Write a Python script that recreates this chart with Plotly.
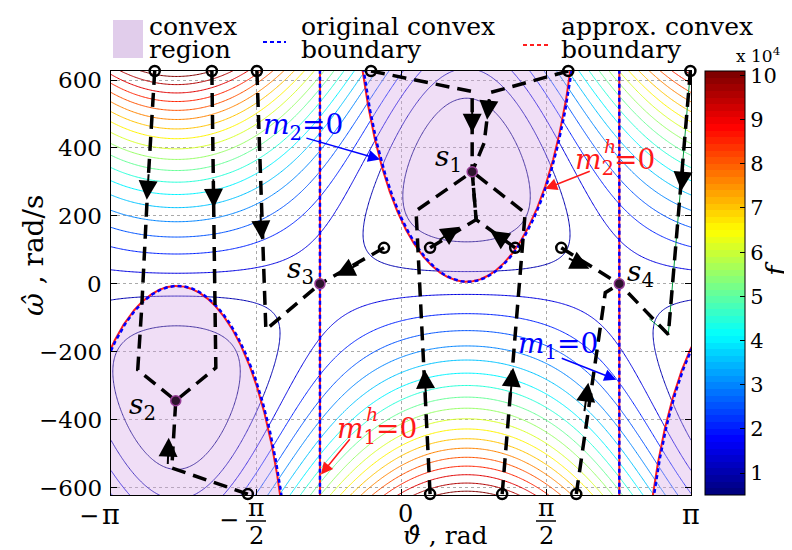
import numpy as np
import plotly.graph_objects as go

# ---------------- data ----------------
# cost surface model f = A*(w - R cos u)^2 + B*(1 - cos 2u),  u = theta - theta_s1
theta_s1 = 0.71
R_valley = 335.0
A_curv = 0.113
K_conv = 329.0                      # 2B/(A R): sets the convex boundary
B_curv = K_conv * A_curv * R_valley / 2.0

level_start = 5050.0
level_step = 5050.0
level_end = 101000.0

cbar_range = [5050.0, 101000.0]
cbar_tickvals = [10000 * k for k in range(1, 11)]
cbar_ticktext = [str(k) for k in range(1, 11)]

x_range = [-np.pi, np.pi]
y_range = [-621.6, 626.5]
x_ticks = [-np.pi, -np.pi / 2, 0.0, np.pi / 2, np.pi]
y_ticks = [-600, -400, -200, 0, 200, 400, 600]
y_ticktext = ["−600", "−400", "−200", "0", "200", "400", "600"]

# vertical boundary lines (m2 = 0 / m1^h = 0 and m1 = 0)
vline_theta = [-0.878, 2.365]

# stationary points s1..s4
stat_names = ["1", "2", "3", "4"]
stat_theta = [0.771, -2.440, -0.878, 2.365]
stat_omega = [330.0, -344.0, 0.0, 0.0]

# trajectories (theta [rad], omega [rad/s]); first point = start circle
t1_th = [-2.668, -2.744, -2.809, -2.852, -2.440]
t1_om = [626.5, 283.0, -71.0, -253.0, -344.0]
t2_th = [-2.049, -2.006, -2.440]
t2_om = [626.5, -247.0, -344.0]
t3_th = [-1.561, -1.464, -0.878]
t3_om = [626.5, -135.0, 0.0]
t4_th = [-1.659, -2.483, -2.440]
t4_om = [-619.0, -542.0, -344.0]
t5_th = [-0.184, -0.878]
t5_om = [106.0, 0.0]
t6_th = [-0.325, 0.771, 0.771]
t6_om = [626.5, 566.0, 330.0]
t7_th = [1.812, 0.966, 0.901, 0.771]
t7_om = [626.5, 563.0, 415.0, 330.0]
b1_th = [0.315, 0.163, 0.771]
b1_om = [-619.0, 215.0, 330.0]
b2_th = [1.096, 1.345, 0.771]
b2_om = [-619.0, 209.0, 330.0]
b3_th = [1.899, 2.213, 2.365]
b3_om = [-619.0, -26.0, 0.0]
c1_th = [0.315, 0.814, 0.771]
c1_om = [106.0, 189.0, 330.0]
c2_th = [1.237, 0.814, 0.771]
c2_om = [106.0, 189.0, 330.0]
d1_th = [3.135, 2.896, 2.365]
d1_om = [626.5, -149.0, 0.0]
d2_th = [1.736, 2.365]
d2_om = [106.0, 0.0]
green_th = [3.135, 2.896, 2.690]
green_om = [626.5, -149.0, -103.0]

# arrowheads on trajectories: tip (theta, omega), tail (theta, omega)
arrow_tip_th = [-2.754, -2.028, -1.507, -2.516, -0.705, 0.771, 0.933, 0.640, 0.966, 0.255, 1.215, 2.029, 3.037, 2.041]
arrow_tip_om = [247.6, 224.0, 129.9, -452.8, 24.0, 444.8, 483.3, 167.9, 156.1, -252.6, -246.8, -291.0, 274.2, 44.6]
arrow_tail_th = [-2.733, -2.033, -1.523, -2.527, -0.444, 0.771, 0.955, 0.402, 1.161, 0.272, 1.183, 1.985, 3.059, 1.802]
arrow_tail_om = [327.0, 312.0, 209.4, -535.0, 59.3, 524.3, 548.0, 126.9, 120.8, -340.9, -335.0, -379.0, 341.9, 77.0]

trajectories = [(t1_th, t1_om), (t2_th, t2_om), (t3_th, t3_om), (t4_th, t4_om),
                (t5_th, t5_om), (t6_th, t6_om), (t7_th, t7_om), (b1_th, b1_om),
                (b2_th, b2_om), (b3_th, b3_om), (c1_th, c1_om), (c2_th, c2_om),
                (d1_th, d1_om), (d2_th, d2_om)]

# ---------------- helpers ----------------
FONT = "DejaVu Serif"
X0, X1, Y0, Y1 = 103.0, 683.0, 63.0, 487.0   # plot area in pixels


def pxx(px):
    return (px - X0) / (X1 - X0)


def pxy(py):
    return (Y1 - py) / (Y1 - Y0)


def tick_px(t):
    return X0 + (t - x_range[0]) / (x_range[1] - x_range[0]) * (X1 - X0)


def tick_py(v):
    return Y1 - (v - y_range[0]) / (y_range[1] - y_range[0]) * (Y1 - Y0)


def jet(x):
    r = np.clip(min(4 * x - 1.5, -4 * x + 4.5), 0, 1)
    g = np.clip(min(4 * x - 0.5, -4 * x + 3.5), 0, 1)
    b = np.clip(min(4 * x + 0.5, -4 * x + 2.5), 0, 1)
    return "rgb(%d,%d,%d)" % (round(r * 255), round(g * 255), round(b * 255))


jet64 = []
for i in range(64):
    c = jet(i / 63.0)
    jet64.append([i / 64.0, c])
    jet64.append([(i + 1) / 64.0, c])

# ---------------- surface ----------------
th = np.linspace(-np.pi, np.pi, 421)
om = np.linspace(-650, 650, 361)
TH, OM = np.meshgrid(th, om)
U = TH - theta_s1
F = A_curv * (OM - R_valley * np.cos(U)) ** 2 + B_curv * (1 - np.cos(2 * U))


def boundary(u):
    return R_valley * np.cos(u) - K_conv * np.cos(2 * u) / np.cos(u)


fig = go.Figure()

fill_col = "rgba(212,160,228,0.35)"
u1 = np.linspace(-np.pi / 2 + 1e-3, np.pi / 2 - 1e-3, 1200)
w1 = np.minimum(boundary(u1), 900)
u2 = np.linspace(np.pi / 2 + 1e-3, 3 * np.pi / 2 - 1e-3, 1200)
w2 = np.maximum(boundary(u2), -900)
for xs, ys in [(theta_s1 + u1, w1), (theta_s1 + u2, w2), (theta_s1 + u2 - 2 * np.pi, w2)]:
    fig.add_trace(go.Scatter(x=xs, y=ys, mode="lines", fill="toself", fillcolor=fill_col,
                             line=dict(width=0), hoverinfo="skip", showlegend=False))

fig.add_trace(go.Contour(x=th, y=om, z=F, autocontour=False,
                         contours=dict(start=level_start, end=level_end, size=level_step,
                                       coloring="lines", showlabels=False),
                         colorscale=jet64, zmin=level_start, zmax=level_end,
                         line=dict(width=1), showscale=False, hoverinfo="skip"))

# convex boundaries: approx (red) under original (blue dashed)
for xs, ys in [(theta_s1 + u1, w1), (theta_s1 + u2, w2), (theta_s1 + u2 - 2 * np.pi, w2)]:
    ys_m = np.where(np.abs(ys) < 800, ys, np.nan)
    fig.add_trace(go.Scatter(x=xs, y=ys_m, mode="lines", line=dict(color="rgb(255,30,30)", width=2),
                             hoverinfo="skip", showlegend=False))
    fig.add_trace(go.Scatter(x=xs + 0.012, y=ys_m, mode="lines",
                             line=dict(color="rgb(0,0,255)", width=2.5, dash="4px,3px"),
                             hoverinfo="skip", showlegend=False))
for vt in vline_theta:
    fig.add_trace(go.Scatter(x=[vt, vt], y=[-700, 700], mode="lines", line=dict(color="rgb(255,30,30)", width=2),
                             hoverinfo="skip", showlegend=False))
    fig.add_trace(go.Scatter(x=[vt, vt], y=[-700, 700], mode="lines",
                             line=dict(color="rgb(0,0,255)", width=2.5, dash="4px,3px"),
                             hoverinfo="skip", showlegend=False))

# green thin path
fig.add_trace(go.Scatter(x=green_th, y=green_om, mode="lines", line=dict(color="rgb(0,150,60)", width=1),
                         hoverinfo="skip", showlegend=False))

# trajectories
for tx, ty in trajectories:
    fig.add_trace(go.Scatter(x=tx, y=ty, mode="lines", line=dict(color="black", width=3.5, dash="14px,8px"),
                             hoverinfo="skip", showlegend=False))
fig.add_trace(go.Scatter(x=[t[0][0] for t in trajectories], y=[t[1][0] for t in trajectories],
                         mode="markers", cliponaxis=False,
                         marker=dict(symbol="circle-open", size=10, color="black", line=dict(width=2.5)),
                         hoverinfo="skip", showlegend=False))
fig.add_trace(go.Scatter(x=stat_theta, y=stat_omega, mode="markers",
                         marker=dict(symbol="circle", size=10, color="rgb(45,20,45)",
                                     line=dict(color="rgb(150,60,150)", width=1.5)),
                         hoverinfo="skip", showlegend=False))

# colorbar carrier
fig.add_trace(go.Scatter(x=[0], y=[5000], mode="markers", hoverinfo="skip", showlegend=False,
                         marker=dict(size=1, color=[cbar_range[0]], colorscale=jet64,
                                     cmin=cbar_range[0], cmax=cbar_range[1], showscale=True,
                                     colorbar=dict(x=1 + (697 - X1) / (X1 - X0), xanchor="left",
                                                   y=0.5, yanchor="middle", len=1, lenmode="fraction",
                                                   thickness=40, thicknessmode="pixels",
                                                   outlinewidth=1, outlinecolor="black",
                                                   tickvals=cbar_tickvals, ticktext=cbar_ticktext,
                                                   ticks="inside", ticklen=5, tickcolor="black",
                                                   tickfont=dict(family=FONT, size=21, color="black"),
                                                   xpad=0, ypad=0))))

ann = []
shapes = []

# arrows on trajectories
for i in range(len(arrow_tip_th)):
    ann.append(dict(x=arrow_tip_th[i], y=arrow_tip_om[i], ax=arrow_tail_th[i], ay=arrow_tail_om[i],
                    xref="x", yref="y", axref="x", ayref="y", text="", showarrow=True,
                    arrowhead=2, arrowsize=1.9, arrowwidth=2, arrowcolor="black", standoff=0))

# stationary point labels
for name, (lx, ly) in zip(stat_names, [(440, 150), (134, 398), (292, 262), (632, 265)]):
    ann.append(dict(x=pxx(lx), y=pxy(ly), xref="paper", yref="paper", showarrow=False,
                    text="<i>s</i><sub>%s</sub>" % name, font=dict(family=FONT, size=28, color="black"),
                    xanchor="center", yanchor="middle"))

# m labels
BLUE = "rgb(0,0,255)"
RED = "rgb(255,25,25)"
ann.append(dict(x=pxx(253), y=pxy(118), xref="paper", yref="paper", showarrow=False,
                text="<i>m</i><sub>2</sub>=0", font=dict(family=FONT, size=28, color=BLUE),
                xanchor="left", yanchor="middle"))
ann.append(dict(x=pxx(565), y=pxy(153), xref="paper", yref="paper", showarrow=False,
                text="<i>m</i><sub>2</sub>=0", font=dict(family=FONT, size=28, color=RED),
                xanchor="left", yanchor="middle"))
ann.append(dict(x=pxx(602), y=pxy(138), xref="paper", yref="paper", showarrow=False,
                text="<i>h</i>", font=dict(family=FONT, size=19, color=RED),
                xanchor="center", yanchor="middle"))
ann.append(dict(x=pxx(508), y=pxy(337), xref="paper", yref="paper", showarrow=False,
                text="<i>m</i><sub>1</sub>=0", font=dict(family=FONT, size=28, color=BLUE),
                xanchor="left", yanchor="middle"))
ann.append(dict(x=pxx(327), y=pxy(422), xref="paper", yref="paper", showarrow=False,
                text="<i>m</i><sub>1</sub>=0", font=dict(family=FONT, size=28, color=RED),
                xanchor="left", yanchor="middle"))
ann.append(dict(x=pxx(364), y=pxy(406), xref="paper", yref="paper", showarrow=False,
                text="<i>h</i>", font=dict(family=FONT, size=19, color=RED),
                xanchor="center", yanchor="middle"))
for (tx, ty, hx, hy, col) in [(-1.041, 430.1, -0.227, 366.2, BLUE), (2.061, 333.0, 1.562, 279.6, RED),
                              (1.725, -217.3, 2.332, -282.0, BLUE), (-0.542, -452.8, -0.867, -561.6, RED)]:
    ann.append(dict(x=hx, y=hy, ax=tx, ay=ty, xref="x", yref="y", axref="x", ayref="y", text="",
                    showarrow=True, arrowhead=2, arrowsize=1.6, arrowwidth=1.5, arrowcolor=col, standoff=0))

# y tick labels
for v, txt in zip(y_ticks, y_ticktext):
    ann.append(dict(x=pxx(96), y=pxy(tick_py(v)), xref="paper", yref="paper", showarrow=False, text=txt,
                    font=dict(family=FONT, size=23, color="black"), xanchor="right", yanchor="middle"))

# x tick labels
tick_font = dict(family=FONT, size=24, color="black")
for t in x_ticks:
    p = tick_px(t)
    if abs(abs(t) - np.pi) < 1e-9:
        ann.append(dict(x=pxx(p), y=pxy(506), xref="paper", yref="paper", showarrow=False, text="π",
                        font=dict(family=FONT, size=27, color="black"), xanchor="center", yanchor="middle"))
        if t < 0:
            ann.append(dict(x=pxx(p - 22), y=pxy(508), xref="paper", yref="paper", showarrow=False, text="−",
                            font=tick_font, xanchor="center", yanchor="middle"))
    elif abs(t) < 1e-9:
        ann.append(dict(x=pxx(p + 4), y=pxy(506), xref="paper", yref="paper", showarrow=False, text="0",
                        font=tick_font, xanchor="center", yanchor="middle"))
    else:
        ann.append(dict(x=pxx(p), y=pxy(499), xref="paper", yref="paper", showarrow=False, text="π",
                        font=dict(family=FONT, size=25, color="black"), xanchor="center", yanchor="middle"))
        ann.append(dict(x=pxx(p), y=pxy(528), xref="paper", yref="paper", showarrow=False, text="2",
                        font=tick_font, xanchor="center", yanchor="middle"))
        shapes.append(dict(type="line", xref="paper", yref="paper", x0=pxx(p - 10), x1=pxx(p + 10),
                           y0=pxy(513), y1=pxy(513), line=dict(color="black", width=1.5)))
        if t < 0:
            ann.append(dict(x=pxx(p - 27), y=pxy(512), xref="paper", yref="paper", showarrow=False, text="−",
                            font=tick_font, xanchor="center", yanchor="middle"))

# axis titles
ann.append(dict(x=pxx(437), y=pxy(527), xref="paper", yref="paper", showarrow=False,
                text="<i>ϑ\u0302</i> , rad", font=dict(family=FONT, size=25, color="black"),
                xanchor="center", yanchor="middle"))
ann.append(dict(x=pxx(25), y=pxy(248), xref="paper", yref="paper", showarrow=False, textangle=-90,
                text="<i>ω\u0302</i> , rad/s", font=dict(family=FONT, size=28, color="black"),
                xanchor="center", yanchor="middle"))
ann.append(dict(x=pxx(768), y=pxy(262), xref="paper", yref="paper", showarrow=False, textangle=-90,
                text="<i>f</i>", font=dict(family=FONT, size=28, color="black"),
                xanchor="center", yanchor="middle"))
ann.append(dict(x=pxx(750), y=pxy(60), xref="paper", yref="paper", showarrow=False,
                text="x 10<sup>4</sup>", font=dict(family=FONT, size=17, color="black"),
                xanchor="center", yanchor="bottom"))

# legend
leg_font = dict(family=FONT, size=25, color="black")
shapes.append(dict(type="rect", xref="paper", yref="paper", x0=pxx(105), x1=pxx(135), y0=pxy(50), y1=pxy(12),
                   fillcolor="rgb(225,205,235)", line=dict(width=0)))
shapes.append(dict(type="line", xref="paper", yref="paper", x0=pxx(255), x1=pxx(278), y0=pxy(34), y1=pxy(34),
                   line=dict(color="rgb(0,0,255)", width=2, dash="4px,3px")))
shapes.append(dict(type="line", xref="paper", yref="paper", x0=pxx(515), x1=pxx(540), y0=pxy(37), y1=pxy(37),
                   line=dict(color="rgb(255,30,30)", width=2, dash="4px,3px")))
for (lx, l1, l2) in [(139, "convex", "region"), (291, "original convex", "boundary"),
                     (551, "approx. convex", "boundary")]:
    ann.append(dict(x=pxx(lx), y=pxy(19), xref="paper", yref="paper", showarrow=False, text=l1,
                    font=leg_font, xanchor="left", yanchor="middle"))
    ann.append(dict(x=pxx(lx), y=pxy(41), xref="paper", yref="paper", showarrow=False, text=l2,
                    font=leg_font, xanchor="left", yanchor="middle"))

axis_common = dict(showline=True, linecolor="black", linewidth=1, mirror="ticks", ticks="inside",
                   ticklen=6, tickcolor="black", showgrid=True, gridcolor="rgb(170,170,170)",
                   griddash="dot", gridwidth=1, zeroline=False, showticklabels=False)
fig.update_layout(
    width=792, height=550,
    margin=dict(l=X0, r=792 - X1, t=Y0, b=550 - Y1),
    paper_bgcolor="white", plot_bgcolor="white",
    xaxis=dict(range=x_range, tickvals=x_ticks, **axis_common),
    yaxis=dict(range=y_range, tickvals=y_ticks, **axis_common),
    annotations=ann, shapes=shapes, showlegend=False,
)

fig.write_html("out.html")
